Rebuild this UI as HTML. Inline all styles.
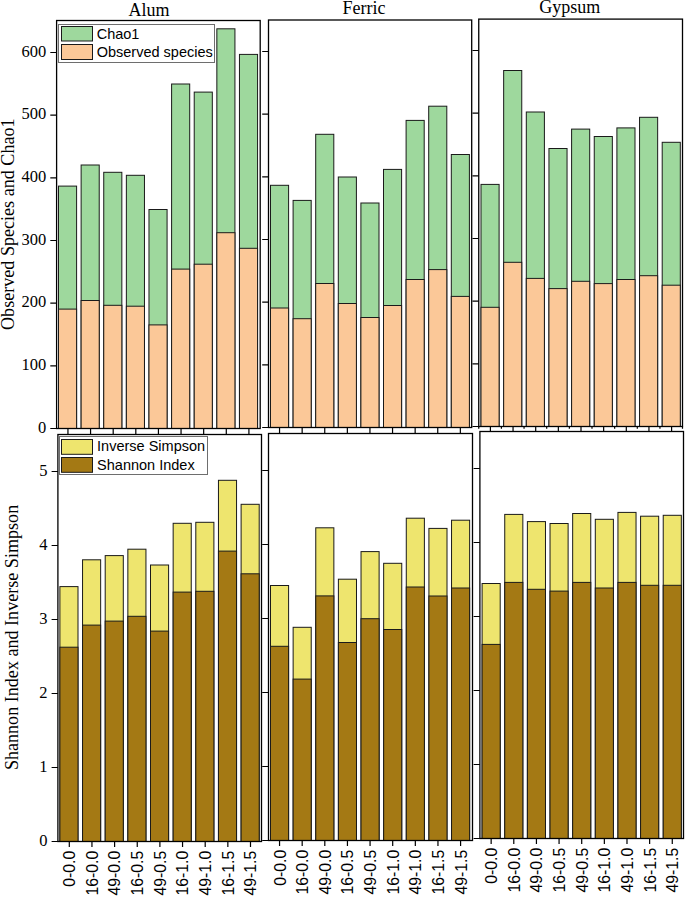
<!DOCTYPE html>
<html><head><meta charset="utf-8"><title>Alpha diversity</title>
<style>
html,body{margin:0;padding:0;background:#fff;}
body{width:685px;height:897px;overflow:hidden;}
svg{display:block;}
.serif{font-family:"Liberation Serif",serif;fill:#000;}
.sans{font-family:"Liberation Sans",sans-serif;fill:#000;}
</style></head><body>
<svg width="685" height="897" viewBox="0 0 685 897">
<rect x="0" y="0" width="685" height="897" fill="#fff"/>

<g>
<rect x="58.5" y="186.1" width="18.1" height="242.4" fill="#9ed89d" stroke="#1a1a1a" stroke-width="1"/>
<rect x="58.5" y="309.1" width="18.1" height="119.4" fill="#fbc898" stroke="#1a1a1a" stroke-width="1"/>
<rect x="81.12" y="165" width="18.1" height="263.5" fill="#9ed89d" stroke="#1a1a1a" stroke-width="1"/>
<rect x="81.12" y="300.5" width="18.1" height="128" fill="#fbc898" stroke="#1a1a1a" stroke-width="1"/>
<rect x="103.74" y="172.3" width="18.1" height="256.2" fill="#9ed89d" stroke="#1a1a1a" stroke-width="1"/>
<rect x="103.74" y="305.3" width="18.1" height="123.2" fill="#fbc898" stroke="#1a1a1a" stroke-width="1"/>
<rect x="126.36" y="175.3" width="18.1" height="253.2" fill="#9ed89d" stroke="#1a1a1a" stroke-width="1"/>
<rect x="126.36" y="306.2" width="18.1" height="122.3" fill="#fbc898" stroke="#1a1a1a" stroke-width="1"/>
<rect x="148.98" y="209.5" width="18.1" height="219" fill="#9ed89d" stroke="#1a1a1a" stroke-width="1"/>
<rect x="148.98" y="324.9" width="18.1" height="103.6" fill="#fbc898" stroke="#1a1a1a" stroke-width="1"/>
<rect x="171.6" y="84" width="18.1" height="344.5" fill="#9ed89d" stroke="#1a1a1a" stroke-width="1"/>
<rect x="171.6" y="269.1" width="18.1" height="159.4" fill="#fbc898" stroke="#1a1a1a" stroke-width="1"/>
<rect x="194.22" y="92.1" width="18.1" height="336.4" fill="#9ed89d" stroke="#1a1a1a" stroke-width="1"/>
<rect x="194.22" y="264.2" width="18.1" height="164.3" fill="#fbc898" stroke="#1a1a1a" stroke-width="1"/>
<rect x="216.84" y="28.8" width="18.1" height="399.7" fill="#9ed89d" stroke="#1a1a1a" stroke-width="1"/>
<rect x="216.84" y="232.7" width="18.1" height="195.8" fill="#fbc898" stroke="#1a1a1a" stroke-width="1"/>
<rect x="239.46" y="54.4" width="18.1" height="374.1" fill="#9ed89d" stroke="#1a1a1a" stroke-width="1"/>
<rect x="239.46" y="248.3" width="18.1" height="180.2" fill="#fbc898" stroke="#1a1a1a" stroke-width="1"/>
<rect x="56.6" y="20.5" width="203.6" height="408" fill="none" stroke="#000" stroke-width="1.3"/>
<path d="M50.3 428.5H56.6 M50.3 365.83H56.6 M50.3 303.17H56.6 M50.3 240.5H56.6 M50.3 177.83H56.6 M50.3 115.17H56.6 M50.3 52.5H56.6 M67.95 428.5V434 M90.57 428.5V434 M113.19 428.5V434 M135.81 428.5V434 M158.43 428.5V434 M181.05 428.5V434 M203.67 428.5V434 M226.29 428.5V434 M248.91 428.5V434" stroke="#000" stroke-width="1.2" fill="none"/>
</g>
<g>
<rect x="270.5" y="185.3" width="18.1" height="242.2" fill="#9ed89d" stroke="#1a1a1a" stroke-width="1"/>
<rect x="270.5" y="308" width="18.1" height="119.5" fill="#fbc898" stroke="#1a1a1a" stroke-width="1"/>
<rect x="293.1" y="200.4" width="18.1" height="227.1" fill="#9ed89d" stroke="#1a1a1a" stroke-width="1"/>
<rect x="293.1" y="318.7" width="18.1" height="108.8" fill="#fbc898" stroke="#1a1a1a" stroke-width="1"/>
<rect x="315.7" y="134.3" width="18.1" height="293.2" fill="#9ed89d" stroke="#1a1a1a" stroke-width="1"/>
<rect x="315.7" y="283.5" width="18.1" height="144" fill="#fbc898" stroke="#1a1a1a" stroke-width="1"/>
<rect x="338.3" y="177" width="18.1" height="250.5" fill="#9ed89d" stroke="#1a1a1a" stroke-width="1"/>
<rect x="338.3" y="303.5" width="18.1" height="124" fill="#fbc898" stroke="#1a1a1a" stroke-width="1"/>
<rect x="360.9" y="203" width="18.1" height="224.5" fill="#9ed89d" stroke="#1a1a1a" stroke-width="1"/>
<rect x="360.9" y="317.5" width="18.1" height="110" fill="#fbc898" stroke="#1a1a1a" stroke-width="1"/>
<rect x="383.5" y="169.4" width="18.1" height="258.1" fill="#9ed89d" stroke="#1a1a1a" stroke-width="1"/>
<rect x="383.5" y="305.5" width="18.1" height="122" fill="#fbc898" stroke="#1a1a1a" stroke-width="1"/>
<rect x="406.1" y="120.4" width="18.1" height="307.1" fill="#9ed89d" stroke="#1a1a1a" stroke-width="1"/>
<rect x="406.1" y="279.5" width="18.1" height="148" fill="#fbc898" stroke="#1a1a1a" stroke-width="1"/>
<rect x="428.7" y="106.2" width="18.1" height="321.3" fill="#9ed89d" stroke="#1a1a1a" stroke-width="1"/>
<rect x="428.7" y="269.6" width="18.1" height="157.9" fill="#fbc898" stroke="#1a1a1a" stroke-width="1"/>
<rect x="451.3" y="154.5" width="18.1" height="273" fill="#9ed89d" stroke="#1a1a1a" stroke-width="1"/>
<rect x="451.3" y="296.4" width="18.1" height="131.1" fill="#fbc898" stroke="#1a1a1a" stroke-width="1"/>
<rect x="268.5" y="20" width="203.2" height="407.5" fill="none" stroke="#000" stroke-width="1.3"/>
<path d="M262.2 427.5H268.5 M262.2 364.83H268.5 M262.2 302.17H268.5 M262.2 239.5H268.5 M262.2 176.83H268.5 M262.2 114.17H268.5 M262.2 51.5H268.5 M279.55 427.5V433 M302.15 427.5V433 M324.75 427.5V433 M347.35 427.5V433 M369.95 427.5V433 M392.55 427.5V433 M415.15 427.5V433 M437.75 427.5V433 M460.35 427.5V433" stroke="#000" stroke-width="1.2" fill="none"/>
</g>
<g>
<rect x="481" y="184.4" width="18.1" height="242.1" fill="#9ed89d" stroke="#1a1a1a" stroke-width="1"/>
<rect x="481" y="307.3" width="18.1" height="119.2" fill="#fbc898" stroke="#1a1a1a" stroke-width="1"/>
<rect x="503.65" y="70.5" width="18.1" height="356" fill="#9ed89d" stroke="#1a1a1a" stroke-width="1"/>
<rect x="503.65" y="262.3" width="18.1" height="164.2" fill="#fbc898" stroke="#1a1a1a" stroke-width="1"/>
<rect x="526.3" y="112" width="18.1" height="314.5" fill="#9ed89d" stroke="#1a1a1a" stroke-width="1"/>
<rect x="526.3" y="278.4" width="18.1" height="148.1" fill="#fbc898" stroke="#1a1a1a" stroke-width="1"/>
<rect x="548.95" y="148.5" width="18.1" height="278" fill="#9ed89d" stroke="#1a1a1a" stroke-width="1"/>
<rect x="548.95" y="288.6" width="18.1" height="137.9" fill="#fbc898" stroke="#1a1a1a" stroke-width="1"/>
<rect x="571.6" y="129.1" width="18.1" height="297.4" fill="#9ed89d" stroke="#1a1a1a" stroke-width="1"/>
<rect x="571.6" y="281.3" width="18.1" height="145.2" fill="#fbc898" stroke="#1a1a1a" stroke-width="1"/>
<rect x="594.25" y="136.5" width="18.1" height="290" fill="#9ed89d" stroke="#1a1a1a" stroke-width="1"/>
<rect x="594.25" y="283.6" width="18.1" height="142.9" fill="#fbc898" stroke="#1a1a1a" stroke-width="1"/>
<rect x="616.9" y="127.9" width="18.1" height="298.6" fill="#9ed89d" stroke="#1a1a1a" stroke-width="1"/>
<rect x="616.9" y="279.5" width="18.1" height="147" fill="#fbc898" stroke="#1a1a1a" stroke-width="1"/>
<rect x="639.55" y="117.3" width="18.1" height="309.2" fill="#9ed89d" stroke="#1a1a1a" stroke-width="1"/>
<rect x="639.55" y="275.7" width="18.1" height="150.8" fill="#fbc898" stroke="#1a1a1a" stroke-width="1"/>
<rect x="662.2" y="142.3" width="18.1" height="284.2" fill="#9ed89d" stroke="#1a1a1a" stroke-width="1"/>
<rect x="662.2" y="285.2" width="18.1" height="141.3" fill="#fbc898" stroke="#1a1a1a" stroke-width="1"/>
<rect x="478.75" y="19.1" width="203.75" height="407.4" fill="none" stroke="#000" stroke-width="1.3"/>
<path d="M472.45 426.5H478.75 M472.45 363.83H478.75 M472.45 301.17H478.75 M472.45 238.5H478.75 M472.45 175.83H478.75 M472.45 113.17H478.75 M472.45 50.5H478.75 M490.4 426.5V432 M513.05 426.5V432 M535.7 426.5V432 M558.35 426.5V432 M581 426.5V432 M603.65 426.5V432 M626.3 426.5V432 M648.95 426.5V432 M671.6 426.5V432 M478.75 426.5V428.7 M501.4 426.5V428.7 M524.05 426.5V428.7 M546.7 426.5V428.7 M569.35 426.5V428.7 M592 426.5V428.7 M614.65 426.5V428.7 M637.3 426.5V428.7 M659.95 426.5V428.7 M682.5 426.5V428.7" stroke="#000" stroke-width="1.2" fill="none"/>
</g>
<g>
<rect x="59.9" y="586.6" width="18.1" height="254.9" fill="#eee56e" stroke="#1a1a1a" stroke-width="1"/>
<rect x="59.9" y="647.2" width="18.1" height="194.3" fill="#a47914" stroke="#1a1a1a" stroke-width="1"/>
<rect x="82.55" y="559.8" width="18.1" height="281.7" fill="#eee56e" stroke="#1a1a1a" stroke-width="1"/>
<rect x="82.55" y="625.1" width="18.1" height="216.4" fill="#a47914" stroke="#1a1a1a" stroke-width="1"/>
<rect x="105.2" y="555.6" width="18.1" height="285.9" fill="#eee56e" stroke="#1a1a1a" stroke-width="1"/>
<rect x="105.2" y="621.1" width="18.1" height="220.4" fill="#a47914" stroke="#1a1a1a" stroke-width="1"/>
<rect x="127.85" y="549.2" width="18.1" height="292.3" fill="#eee56e" stroke="#1a1a1a" stroke-width="1"/>
<rect x="127.85" y="616.3" width="18.1" height="225.2" fill="#a47914" stroke="#1a1a1a" stroke-width="1"/>
<rect x="150.5" y="565" width="18.1" height="276.5" fill="#eee56e" stroke="#1a1a1a" stroke-width="1"/>
<rect x="150.5" y="631.1" width="18.1" height="210.4" fill="#a47914" stroke="#1a1a1a" stroke-width="1"/>
<rect x="173.15" y="523.3" width="18.1" height="318.2" fill="#eee56e" stroke="#1a1a1a" stroke-width="1"/>
<rect x="173.15" y="592.1" width="18.1" height="249.4" fill="#a47914" stroke="#1a1a1a" stroke-width="1"/>
<rect x="195.8" y="522.3" width="18.1" height="319.2" fill="#eee56e" stroke="#1a1a1a" stroke-width="1"/>
<rect x="195.8" y="591.3" width="18.1" height="250.2" fill="#a47914" stroke="#1a1a1a" stroke-width="1"/>
<rect x="218.45" y="480.3" width="18.1" height="361.2" fill="#eee56e" stroke="#1a1a1a" stroke-width="1"/>
<rect x="218.45" y="551.1" width="18.1" height="290.4" fill="#a47914" stroke="#1a1a1a" stroke-width="1"/>
<rect x="241.1" y="504.3" width="18.1" height="337.2" fill="#eee56e" stroke="#1a1a1a" stroke-width="1"/>
<rect x="241.1" y="573.8" width="18.1" height="267.7" fill="#a47914" stroke="#1a1a1a" stroke-width="1"/>
<rect x="57.9" y="434.5" width="203.6" height="407" fill="none" stroke="#000" stroke-width="1.3"/>
<path d="M51.6 841.5H57.9 M51.6 767.5H57.9 M51.6 693.5H57.9 M51.6 619.5H57.9 M51.6 545.5H57.9 M51.6 471.5H57.9 M69.3 841.5V847 M91.95 841.5V847 M114.6 841.5V847 M137.25 841.5V847 M159.9 841.5V847 M182.55 841.5V847 M205.2 841.5V847 M227.85 841.5V847 M250.5 841.5V847" stroke="#000" stroke-width="1.2" fill="none"/>
</g>
<g>
<rect x="270.5" y="585.5" width="18.1" height="255" fill="#eee56e" stroke="#1a1a1a" stroke-width="1"/>
<rect x="270.5" y="646.3" width="18.1" height="194.2" fill="#a47914" stroke="#1a1a1a" stroke-width="1"/>
<rect x="293.13" y="627.3" width="18.1" height="213.2" fill="#eee56e" stroke="#1a1a1a" stroke-width="1"/>
<rect x="293.13" y="679.1" width="18.1" height="161.4" fill="#a47914" stroke="#1a1a1a" stroke-width="1"/>
<rect x="315.76" y="527.8" width="18.1" height="312.7" fill="#eee56e" stroke="#1a1a1a" stroke-width="1"/>
<rect x="315.76" y="595.9" width="18.1" height="244.6" fill="#a47914" stroke="#1a1a1a" stroke-width="1"/>
<rect x="338.39" y="579.2" width="18.1" height="261.3" fill="#eee56e" stroke="#1a1a1a" stroke-width="1"/>
<rect x="338.39" y="642.5" width="18.1" height="198" fill="#a47914" stroke="#1a1a1a" stroke-width="1"/>
<rect x="361.02" y="551.6" width="18.1" height="288.9" fill="#eee56e" stroke="#1a1a1a" stroke-width="1"/>
<rect x="361.02" y="618.7" width="18.1" height="221.8" fill="#a47914" stroke="#1a1a1a" stroke-width="1"/>
<rect x="383.65" y="563.3" width="18.1" height="277.2" fill="#eee56e" stroke="#1a1a1a" stroke-width="1"/>
<rect x="383.65" y="629.5" width="18.1" height="211" fill="#a47914" stroke="#1a1a1a" stroke-width="1"/>
<rect x="406.28" y="518.2" width="18.1" height="322.3" fill="#eee56e" stroke="#1a1a1a" stroke-width="1"/>
<rect x="406.28" y="587" width="18.1" height="253.5" fill="#a47914" stroke="#1a1a1a" stroke-width="1"/>
<rect x="428.91" y="528.4" width="18.1" height="312.1" fill="#eee56e" stroke="#1a1a1a" stroke-width="1"/>
<rect x="428.91" y="596" width="18.1" height="244.5" fill="#a47914" stroke="#1a1a1a" stroke-width="1"/>
<rect x="451.54" y="520.2" width="18.1" height="320.3" fill="#eee56e" stroke="#1a1a1a" stroke-width="1"/>
<rect x="451.54" y="588" width="18.1" height="252.5" fill="#a47914" stroke="#1a1a1a" stroke-width="1"/>
<rect x="268.5" y="433.5" width="204" height="407" fill="none" stroke="#000" stroke-width="1.3"/>
<path d="M262.2 840.5H268.5 M262.2 766.5H268.5 M262.2 692.5H268.5 M262.2 618.5H268.5 M262.2 544.5H268.5 M262.2 470.5H268.5 M279.55 840.5V846 M302.18 840.5V846 M324.81 840.5V846 M347.44 840.5V846 M370.07 840.5V846 M392.7 840.5V846 M415.33 840.5V846 M437.96 840.5V846 M460.59 840.5V846" stroke="#000" stroke-width="1.2" fill="none"/>
</g>
<g>
<rect x="482.1" y="583.5" width="18.1" height="255" fill="#eee56e" stroke="#1a1a1a" stroke-width="1"/>
<rect x="482.1" y="644.4" width="18.1" height="194.1" fill="#a47914" stroke="#1a1a1a" stroke-width="1"/>
<rect x="504.74" y="514.4" width="18.1" height="324.1" fill="#eee56e" stroke="#1a1a1a" stroke-width="1"/>
<rect x="504.74" y="582.4" width="18.1" height="256.1" fill="#a47914" stroke="#1a1a1a" stroke-width="1"/>
<rect x="527.38" y="521.6" width="18.1" height="316.9" fill="#eee56e" stroke="#1a1a1a" stroke-width="1"/>
<rect x="527.38" y="589.3" width="18.1" height="249.2" fill="#a47914" stroke="#1a1a1a" stroke-width="1"/>
<rect x="550.02" y="523.5" width="18.1" height="315" fill="#eee56e" stroke="#1a1a1a" stroke-width="1"/>
<rect x="550.02" y="591.1" width="18.1" height="247.4" fill="#a47914" stroke="#1a1a1a" stroke-width="1"/>
<rect x="572.66" y="513.5" width="18.1" height="325" fill="#eee56e" stroke="#1a1a1a" stroke-width="1"/>
<rect x="572.66" y="582.4" width="18.1" height="256.1" fill="#a47914" stroke="#1a1a1a" stroke-width="1"/>
<rect x="595.3" y="519.3" width="18.1" height="319.2" fill="#eee56e" stroke="#1a1a1a" stroke-width="1"/>
<rect x="595.3" y="588" width="18.1" height="250.5" fill="#a47914" stroke="#1a1a1a" stroke-width="1"/>
<rect x="617.94" y="512.4" width="18.1" height="326.1" fill="#eee56e" stroke="#1a1a1a" stroke-width="1"/>
<rect x="617.94" y="582.4" width="18.1" height="256.1" fill="#a47914" stroke="#1a1a1a" stroke-width="1"/>
<rect x="640.58" y="516.2" width="18.1" height="322.3" fill="#eee56e" stroke="#1a1a1a" stroke-width="1"/>
<rect x="640.58" y="585.3" width="18.1" height="253.2" fill="#a47914" stroke="#1a1a1a" stroke-width="1"/>
<rect x="663.22" y="515.3" width="18.1" height="323.2" fill="#eee56e" stroke="#1a1a1a" stroke-width="1"/>
<rect x="663.22" y="585.3" width="18.1" height="253.2" fill="#a47914" stroke="#1a1a1a" stroke-width="1"/>
<rect x="479.9" y="431.5" width="203.6" height="407" fill="none" stroke="#000" stroke-width="1.3"/>
<path d="M473.6 838.5H479.9 M473.6 764.5H479.9 M473.6 690.5H479.9 M473.6 616.5H479.9 M473.6 542.5H479.9 M473.6 468.5H479.9 M491.15 838.5V844 M513.79 838.5V844 M536.43 838.5V844 M559.07 838.5V844 M581.71 838.5V844 M604.35 838.5V844 M626.99 838.5V844 M649.63 838.5V844 M672.27 838.5V844" stroke="#000" stroke-width="1.2" fill="none"/>
</g>
<text class="serif" x="46.3" y="432.5" font-size="16.5" text-anchor="end">0</text>
<text class="serif" x="46.3" y="369.83" font-size="16.5" text-anchor="end">100</text>
<text class="serif" x="46.3" y="307.17" font-size="16.5" text-anchor="end">200</text>
<text class="serif" x="46.3" y="244.5" font-size="16.5" text-anchor="end">300</text>
<text class="serif" x="46.3" y="181.83" font-size="16.5" text-anchor="end">400</text>
<text class="serif" x="46.3" y="119.17" font-size="16.5" text-anchor="end">500</text>
<text class="serif" x="46.3" y="56.5" font-size="16.5" text-anchor="end">600</text>
<text class="serif" x="47.4" y="845.5" font-size="16.5" text-anchor="end">0</text>
<text class="serif" x="47.4" y="771.5" font-size="16.5" text-anchor="end">1</text>
<text class="serif" x="47.4" y="697.5" font-size="16.5" text-anchor="end">2</text>
<text class="serif" x="47.4" y="623.5" font-size="16.5" text-anchor="end">3</text>
<text class="serif" x="47.4" y="549.5" font-size="16.5" text-anchor="end">4</text>
<text class="serif" x="47.4" y="475.5" font-size="16.5" text-anchor="end">5</text>
<text class="sans" font-size="15.8" text-anchor="end" transform="translate(74.95 850.7) rotate(-90)">0-0.0</text>
<text class="sans" font-size="15.8" text-anchor="end" transform="translate(97.6 850.7) rotate(-90)">16-0.0</text>
<text class="sans" font-size="15.8" text-anchor="end" transform="translate(120.25 850.7) rotate(-90)">49-0.0</text>
<text class="sans" font-size="15.8" text-anchor="end" transform="translate(142.9 850.7) rotate(-90)">16-0.5</text>
<text class="sans" font-size="15.8" text-anchor="end" transform="translate(165.55 850.7) rotate(-90)">49-0.5</text>
<text class="sans" font-size="15.8" text-anchor="end" transform="translate(188.2 850.7) rotate(-90)">16-1.0</text>
<text class="sans" font-size="15.8" text-anchor="end" transform="translate(210.85 850.7) rotate(-90)">49-1.0</text>
<text class="sans" font-size="15.8" text-anchor="end" transform="translate(233.5 850.7) rotate(-90)">16-1.5</text>
<text class="sans" font-size="15.8" text-anchor="end" transform="translate(256.15 850.7) rotate(-90)">49-1.5</text>
<text class="sans" font-size="15.8" text-anchor="end" transform="translate(285.55 849.7) rotate(-90)">0-0.0</text>
<text class="sans" font-size="15.8" text-anchor="end" transform="translate(308.18 849.7) rotate(-90)">16-0.0</text>
<text class="sans" font-size="15.8" text-anchor="end" transform="translate(330.81 849.7) rotate(-90)">49-0.0</text>
<text class="sans" font-size="15.8" text-anchor="end" transform="translate(353.44 849.7) rotate(-90)">16-0.5</text>
<text class="sans" font-size="15.8" text-anchor="end" transform="translate(376.07 849.7) rotate(-90)">49-0.5</text>
<text class="sans" font-size="15.8" text-anchor="end" transform="translate(398.7 849.7) rotate(-90)">16-1.0</text>
<text class="sans" font-size="15.8" text-anchor="end" transform="translate(421.33 849.7) rotate(-90)">49-1.0</text>
<text class="sans" font-size="15.8" text-anchor="end" transform="translate(443.96 849.7) rotate(-90)">16-1.5</text>
<text class="sans" font-size="15.8" text-anchor="end" transform="translate(466.59 849.7) rotate(-90)">49-1.5</text>
<text class="sans" font-size="15.8" text-anchor="end" transform="translate(497.15 847.7) rotate(-90)">0-0.0</text>
<text class="sans" font-size="15.8" text-anchor="end" transform="translate(519.79 847.7) rotate(-90)">16-0.0</text>
<text class="sans" font-size="15.8" text-anchor="end" transform="translate(542.43 847.7) rotate(-90)">49-0.0</text>
<text class="sans" font-size="15.8" text-anchor="end" transform="translate(565.07 847.7) rotate(-90)">16-0.5</text>
<text class="sans" font-size="15.8" text-anchor="end" transform="translate(587.71 847.7) rotate(-90)">49-0.5</text>
<text class="sans" font-size="15.8" text-anchor="end" transform="translate(610.35 847.7) rotate(-90)">16-1.0</text>
<text class="sans" font-size="15.8" text-anchor="end" transform="translate(632.99 847.7) rotate(-90)">49-1.0</text>
<text class="sans" font-size="15.8" text-anchor="end" transform="translate(655.63 847.7) rotate(-90)">16-1.5</text>
<text class="sans" font-size="15.8" text-anchor="end" transform="translate(678.27 847.7) rotate(-90)">49-1.5</text>
<text class="serif" x="149.1" y="15.5" font-size="18" text-anchor="middle">Alum</text>
<text class="serif" x="364" y="14" font-size="18" text-anchor="middle">Ferric</text>
<text class="serif" x="569.7" y="13.2" font-size="18" text-anchor="middle">Gypsum</text>
<text class="serif" font-size="18.1" text-anchor="middle" transform="translate(14 224.2) rotate(-90)">Observed Species and Chao1</text>
<text class="serif" font-size="18.1" text-anchor="middle" transform="translate(17.9 637.45) rotate(-90)">Shannon Index and Inverse Simpson</text>
<rect x="58.5" y="24.5" width="156" height="38" fill="#fff" stroke="#6e6e6e" stroke-width="1"/>
<rect x="61.5" y="26.5" width="31" height="14.5" fill="#9ed89d" stroke="#1a1a1a" stroke-width="1"/>
<text class="sans" x="96.7" y="38.5" font-size="14.5">Chao1</text>
<rect x="61.5" y="44.5" width="31" height="15" fill="#fbc898" stroke="#1a1a1a" stroke-width="1"/>
<text class="sans" x="96.7" y="57" font-size="14.5">Observed species</text>
<rect x="59.5" y="436.5" width="148" height="38" fill="#fff" stroke="#6e6e6e" stroke-width="1"/>
<rect x="61.5" y="439.5" width="31" height="14.8" fill="#eee56e" stroke="#1a1a1a" stroke-width="1"/>
<text class="sans" x="97.1" y="451.4" font-size="14.5">Inverse Simpson</text>
<rect x="61.5" y="457.5" width="31" height="14.8" fill="#a47914" stroke="#1a1a1a" stroke-width="1"/>
<text class="sans" x="97.1" y="469.5" font-size="14.5">Shannon Index</text>
</svg>
</body></html>
